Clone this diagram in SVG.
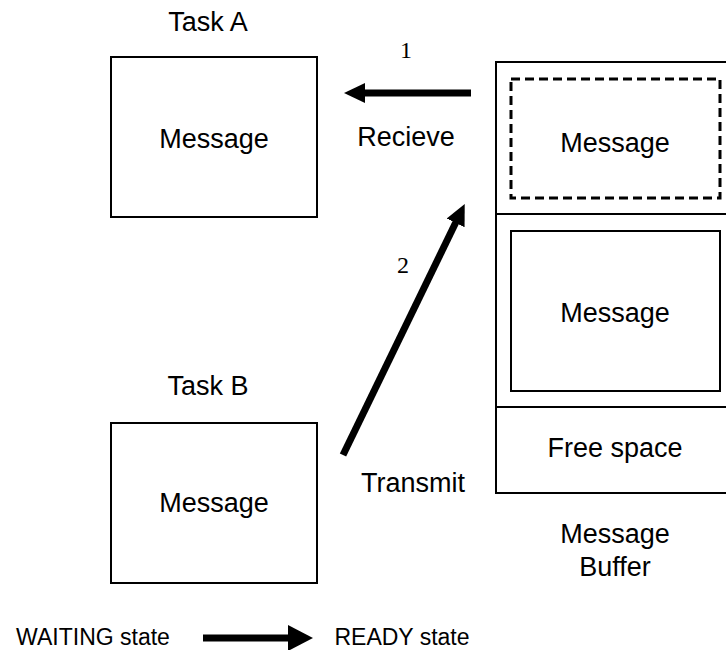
<svg xmlns="http://www.w3.org/2000/svg" width="726" height="650" viewBox="0 0 726 650">
<defs>
<style>
.t{font-family:"Liberation Sans",Arial,sans-serif;font-size:27px;fill:#000;text-anchor:middle}
.n{font-family:"Liberation Serif","Times New Roman",serif;font-size:24px;fill:#000;text-anchor:middle}
.box{fill:#fff;stroke:#000;stroke-width:2}
.dash{fill:none;stroke:#000;stroke-width:3;stroke-dasharray:9,5}
.arr{stroke:#000;stroke-width:7;fill:none}
</style>
<marker id="ah" markerUnits="userSpaceOnUse" markerWidth="21" markerHeight="20" refX="1" refY="10" orient="auto">
<path d="M0,0 L21,10 L0,20 z" fill="#000"/>
</marker>
<marker id="ahL" markerUnits="userSpaceOnUse" markerWidth="25" markerHeight="26" refX="1" refY="13" orient="auto">
<path d="M0,0 L25,13 L0,26 z" fill="#000"/>
</marker>
</defs>
<rect width="726" height="650" fill="#fff"/>
<g id="taskA">
<text class="t" x="208" y="31">Task A</text>
<rect class="box" x="111" y="57" width="206" height="160"/>
<text class="t" x="214" y="148">Message</text>
</g>
<g id="taskB">
<text class="t" x="208" y="395">Task B</text>
<rect class="box" x="111" y="423" width="206" height="160"/>
<text class="t" x="214" y="512">Message</text>
</g>
<g id="buffer">
<rect class="box" x="496" y="62" width="235" height="431"/>
<line x1="496" y1="214" x2="726" y2="214" stroke="#000" stroke-width="2"/>
<line x1="496" y1="407" x2="726" y2="407" stroke="#000" stroke-width="2"/>
<rect class="dash" x="511" y="79" width="209" height="119"/>
<text class="t" x="615" y="152">Message</text>
<rect class="box" x="511" y="231" width="209" height="160"/>
<text class="t" x="615" y="322">Message</text>
<text class="t" x="615" y="457">Free space</text>
<text class="t" x="615" y="543">Message</text>
<text class="t" x="615" y="576">Buffer</text>
</g>
<g id="connectors">
<line class="arr" x1="471" y1="93" x2="364" y2="93" marker-end="url(#ah)"/>
<text class="n" x="406" y="58">1</text>
<text class="t" x="406" y="146">Recieve</text>
<line class="arr" x1="343" y1="455" x2="456" y2="222" marker-end="url(#ah)"/>
<text class="n" x="403" y="273">2</text>
<text class="t" x="413" y="492">Transmit</text>
</g>
<g id="legend">
<text class="t" x="93" y="645" style="font-size:23px">WAITING state</text>
<line class="arr" x1="203" y1="638" x2="289" y2="638" stroke-width="10" marker-end="url(#ahL)"/>
<text class="t" x="402" y="645" style="font-size:23px">READY state</text>
</g>
</svg>
